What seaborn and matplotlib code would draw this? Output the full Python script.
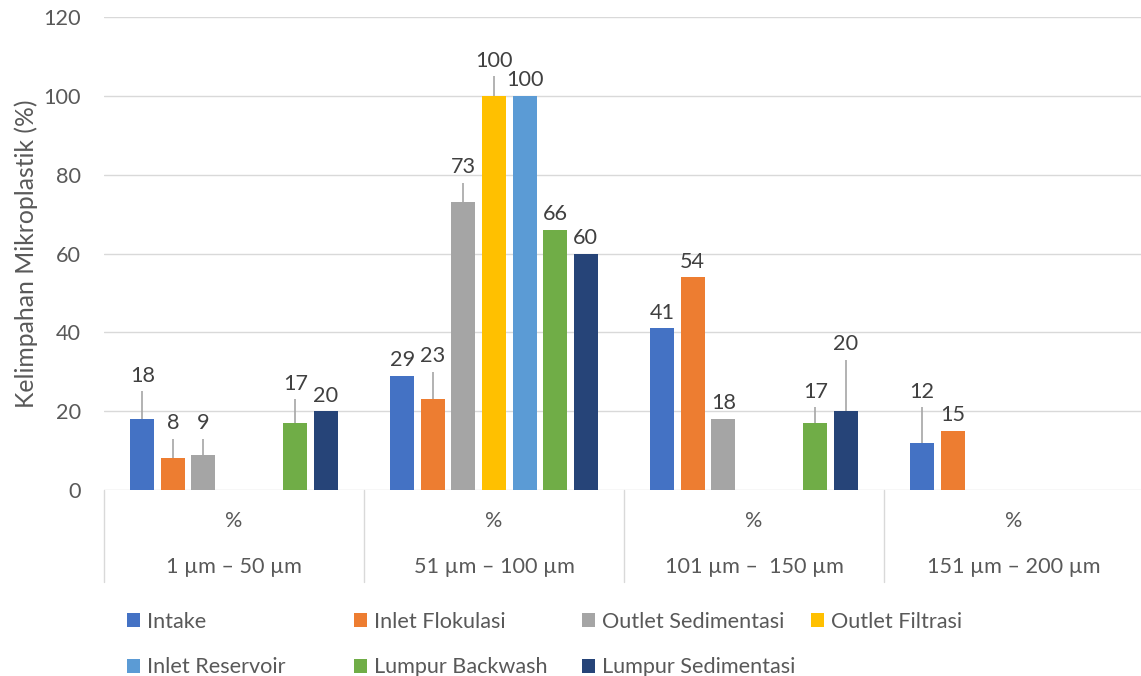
import numpy as np
import pandas as pd
import matplotlib
matplotlib.use("Agg")
import matplotlib.pyplot as plt
import matplotlib.transforms as mtransforms
from matplotlib.patches import Patch
import seaborn as sns

# ---- data -------------------------------------------------------------
size_ranges = ["1 µm – 50 µm", "51 µm – 100 µm", "101 µm –  150 µm", "151 µm – 200 µm"]
unit_labels = ["%", "%", "%", "%"]
series = ["Intake", "Inlet Flokulasi", "Outlet Sedimentasi", "Outlet Filtrasi",
          "Inlet Reservoir", "Lumpur Backwash", "Lumpur Sedimentasi"]

intake = [18, 29, 41, 12]
inlet_flokulasi = [8, 23, 54, 15]
outlet_sedimentasi = [9, 73, 18, np.nan]
outlet_filtrasi = [np.nan, 100, np.nan, np.nan]
inlet_reservoir = [np.nan, 100, np.nan, np.nan]
lumpur_backwash = [17, 66, 17, np.nan]
lumpur_sedimentasi = [20, 60, 20, np.nan]

# upper error (same units as the values)
err_intake = [7, 0, 0, 9]
err_inlet_flokulasi = [5, 7, 0, 0]
err_outlet_sedimentasi = [4, 5, 0, 0]
err_outlet_filtrasi = [0, 5, 0, 0]
err_inlet_reservoir = [0, 0, 0, 0]
err_lumpur_backwash = [6, 0, 4, 0]
err_lumpur_sedimentasi = [0, 0, 13, 0]

yticks = [0, 20, 40, 60, 80, 100, 120]

values = [intake, inlet_flokulasi, outlet_sedimentasi, outlet_filtrasi,
          inlet_reservoir, lumpur_backwash, lumpur_sedimentasi]
errors = [err_intake, err_inlet_flokulasi, err_outlet_sedimentasi, err_outlet_filtrasi,
          err_inlet_reservoir, err_lumpur_backwash, err_lumpur_sedimentasi]

colors = ["#4472C4", "#ED7D31", "#A5A5A5", "#FFC000", "#5B9BD5", "#70AD47", "#264478"]

rows = []
for name, vals in zip(series, values):
    for rng, v in zip(size_ranges, vals):
        if not np.isnan(v):
            rows.append({"range": rng, "series": name, "value": v})
df = pd.DataFrame(rows)

# ---- style ------------------------------------------------------------
sns.set_style("white")
plt.rcParams["font.family"] = ["Lato", "DejaVu Sans"]
FS = 15.6
GRID = "#d9d9d9"
TXT = "#595959"

fig = plt.figure(figsize=(11.41, 6.76), dpi=100)
ax = fig.add_axes([104 / 1141, 186 / 676, 1040 / 1141, 473 / 676])

group_width = 0.824
sns.barplot(data=df, x="range", y="value", hue="series",
            order=size_ranges, hue_order=series, palette=colors,
            saturation=1, width=group_width, gap=0.22, errorbar=None,
            legend=False, linewidth=0, ax=ax)

ax.set_xlim(-0.5, 3.5)
ax.set_ylim(0, 120)
ax.set_yticks(yticks)
ax.set_yticklabels([str(t) for t in yticks])
ax.grid(axis="y", color=GRID, linewidth=1.0)
ax.grid(axis="x", visible=False)
ax.set_axisbelow(True)
for s in ax.spines.values():
    s.set_visible(False)

ax.tick_params(axis="y", length=0, pad=16.5, labelsize=FS, labelcolor=TXT)
ax.tick_params(axis="x", length=0, pad=15, labelsize=FS, labelcolor=TXT)
ax.set_xticks(range(len(size_ranges)))
ax.set_xticklabels([f"{u}\n{r}" for u, r in zip(unit_labels, size_ranges)],
                   linespacing=2.62)
ax.set_xlabel("")
ax.set_ylabel("Kelimpahan Mikroplastik (%)", fontsize=17.8, color=TXT)
ax.yaxis.set_label_coords(-0.063, 0.5)

# category separators below the plot
trans = mtransforms.blended_transform_factory(ax.transData, ax.transAxes)
for xv in np.arange(-0.5, len(size_ranges), 1.0):
    ax.plot([xv, xv], [0, -0.195], transform=trans, clip_on=False,
            color=GRID, linewidth=1.0)

# error bars and value labels, placed on the drawn bars
slot = group_width / len(series)
for p in ax.patches:
    h = p.get_height()
    if h is None or np.isnan(h) or p.get_width() == 0:
        continue
    cx = p.get_x() + p.get_width() / 2
    cat = int(round(cx))
    k = int(round((cx - cat + group_width / 2) / slot - 0.5))
    v = values[k][cat]
    e = errors[k][cat]
    if e > 0:
        ax.errorbar(cx, v, yerr=[[0], [e]], fmt="none", ecolor="#a6a6a6",
                    elinewidth=1.2, capsize=0, zorder=3)
    ax.annotate(f"{v:g}", xy=(cx, v + e), xytext=(0, 4), textcoords="offset points",
                ha="center", va="bottom", fontsize=FS, color="#404040")

# legend: four equal-width columns, two rows
handles = [Patch(facecolor=c, edgecolor="none") for c in colors]
col_x = [127, 354, 582, 811]
for ci, x0 in enumerate(col_x):
    idx = [ci, ci + 4] if ci + 4 < len(series) else [ci]
    leg = fig.legend([handles[i] for i in idx], [series[i] for i in idx],
                     loc="upper left", bbox_to_anchor=(x0 / 1141, 64.5 / 676),
                     frameon=False, fontsize=FS, labelcolor=TXT,
                     handlelength=0.62, handleheight=0.62, handletextpad=0.3,
                     labelspacing=1.19, borderpad=0, borderaxespad=0)

fig.savefig("out.png", dpi=100)
